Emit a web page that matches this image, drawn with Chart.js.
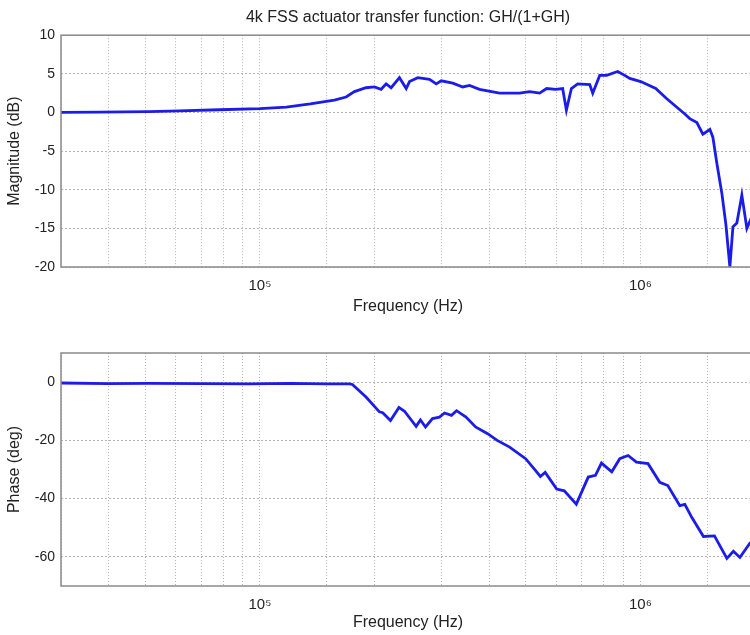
<!DOCTYPE html>
<html>
<head>
<meta charset="utf-8">
<script src="https://cdn.jsdelivr.net/npm/chart.js@4.4.1/dist/chart.umd.min.js"></script>
<style>
  html, body { margin: 0; padding: 0; background: #fff; overflow: hidden; }
  #wrap { position: relative; width: 750px; height: 635px; overflow: hidden; }
  canvas { position: absolute; left: 0; }
</style>
</head>
<body>
<div id="wrap">
  <canvas id="mag" width="770" height="320" style="top:0"></canvas>
  <canvas id="phase" width="770" height="315" style="top:320px"></canvas>
</div>
<script>
// magnitude of GH/(1+GH)
var magFreq = [30000, 37800, 51100, 61300, 78200, 100000, 117300, 135600, 156900, 168400,
  177100, 190000, 199900, 208200, 214600, 221200, 232600, 242300, 247200, 259900,
  279000, 290600, 299500, 321200, 341300, 355500, 377600, 426300, 481300, 511400,
  543300, 566800, 598600, 624500, 638800, 658400, 683900, 735700, 749100, 781500,
  815300, 871300, 909300, 937200, 1001800, 1097000, 1171000, 1244000, 1308000, 1348000,
  1407000, 1459000, 1522000, 1550000, 1588000, 1637000, 1677000, 1718000, 1750000, 1792000,
  1847000, 1904000, 1962000, 2000000];
var magDb = [0.0, 0.05, 0.1, 0.2, 0.35, 0.5, 0.7, 1.1, 1.6, 2.0,
  2.7, 3.2, 3.3, 3.0, 3.7, 3.2, 4.5, 3.1, 4.0, 4.5,
  4.3, 3.7, 4.1, 3.8, 3.3, 3.5, 3.0, 2.5, 2.5, 2.7,
  2.5, 3.1, 3.0, 3.1, 0.3, 3.1, 3.7, 3.6, 2.5, 4.8,
  4.8, 5.3, 4.8, 4.4, 4.0, 3.1, 1.8, 0.7, -0.2, -0.8,
  -1.3, -2.8, -2.2, -3.2, -6.6, -10.5, -14.5, -20.0, -14.8, -14.3,
  -10.7, -15.0, -13.5, -14.0];

// phase in degrees
var phaseFreq = [30000, 40000, 51100, 70000, 93700, 120000, 150000, 171800, 175000, 190000,
  206000, 210200, 220300, 231900, 239800, 257300, 264100, 272300, 284100, 296400,
  305500, 318700, 328600, 348000, 368700, 396600, 420200, 453100, 499100, 530300,
  545600, 561800, 602300, 630700, 678300, 729100, 761700, 789900, 840700, 882200,
  927800, 976100, 1047000, 1124000, 1180000, 1269000, 1308000, 1365000, 1464000, 1565000,
  1687000, 1755000, 1825000, 1939000, 2000000];
var phaseDeg = [-0.3, -0.5, -0.4, -0.5, -0.6, -0.4, -0.6, -0.6, -0.8, -5.1,
  -10.2, -10.5, -13.2, -8.7, -10.0, -15.2, -13.0, -15.4, -12.5, -12.0,
  -10.6, -11.4, -9.8, -12.0, -15.4, -17.7, -20.0, -22.3, -26.3, -30.4,
  -32.4, -31.0, -36.7, -37.3, -41.9, -32.6, -32.0, -27.8, -30.8, -26.3,
  -25.2, -27.5, -28.0, -34.4, -35.5, -42.4, -42.0, -46.5, -53.0, -52.8,
  -60.5, -58.1, -60.2, -55.3, -54.0];

var magTicks = [-20, -15, -10, -5, 0, 5, 10];
var phaseTicks = [-60, -40, -20, 0];
var decadeLabels = { 100000: '10\u2075', 1000000: '10\u2076' };

var FONT = '"Liberation Sans", Arial, sans-serif';
var TXT = '#222';
var GRID = '#b4b4b4';

var framePlugin = {
  id: 'frame',
  afterDatasetsDraw: function (chart) {
    var a = chart.chartArea, ctx = chart.ctx;
    ctx.save();
    ctx.strokeStyle = '#8a8a8a';
    ctx.lineWidth = 1.5;
    ctx.strokeRect(a.left, a.top, a.right - a.left, a.bottom - a.top);
    ctx.restore();
  }
};

function makeChart(id, xs, ys, yMin, yMax, yTicks, yTitle, title, padTop, xHeight, xTitlePad) {
  var ctx = document.getElementById(id).getContext('2d');
  return new Chart(ctx, {
    type: 'line',
    data: {
      datasets: [{
        data: xs.map(function (f, i) { return { x: f, y: ys[i] }; }),
        borderColor: '#1c1ce8',
        borderWidth: 2.8,
        pointRadius: 0,
        tension: 0,
        fill: false
      }]
    },
    options: {
      responsive: false,
      animation: false,
      devicePixelRatio: 1,
      layout: { padding: { left: 0, right: 15, top: padTop, bottom: 0 } },
      plugins: {
        legend: { display: false },
        tooltip: { enabled: false },
        title: {
          display: !!title,
          text: title,
          fullSize: false,
          color: TXT,
          font: { family: FONT, size: 16, weight: 'normal', lineHeight: 1.2 },
          padding: { top: 8, bottom: 8 }
        }
      },
      scales: {
        x: {
          type: 'logarithmic',
          min: 30000,
          max: 2000000,
          afterFit: function (s) { s.height = xHeight; },
          grid: { color: GRID, lineWidth: 1, drawTicks: false },
          border: { display: false, dash: [1, 2] },
          ticks: {
            autoSkip: false,
            maxRotation: 0,
            padding: 10,
            color: TXT,
            font: { family: FONT, size: 15 },
            callback: function (v) { return decadeLabels[v] || ''; }
          },
          title: {
            display: true,
            text: 'Frequency (Hz)',
            color: TXT,
            font: { family: FONT, size: 16, lineHeight: 1.2 },
            padding: { top: 0, bottom: xTitlePad }
          }
        },
        y: {
          min: yMin,
          max: yMax,
          afterFit: function (s) { s.width = 61; },
          afterBuildTicks: function (s) { s.ticks = yTicks.map(function (v) { return { value: v }; }); },
          grid: { color: GRID, lineWidth: 1, drawTicks: false },
          border: { display: false, dash: [2, 2] },
          ticks: {
            padding: 6,
            color: TXT,
            font: { family: FONT, size: 14 }
          },
          title: {
            display: true,
            text: yTitle,
            color: TXT,
            font: { family: FONT, size: 16, lineHeight: 1.2 },
            padding: { top: 5, bottom: 0 }
          }
        }
      }
    },
    plugins: [framePlugin]
  });
}

makeChart('mag', magFreq, magDb, -20, 10, magTicks, 'Magnitude (dB)',
  '4k FSS actuator transfer function: GH/(1+GH)', 0, 53, 4);
makeChart('phase', phaseFreq, phaseDeg, -70, 10, phaseTicks, 'Phase (deg)',
  '', 33, 49, 3);
</script>
</body>
</html>
